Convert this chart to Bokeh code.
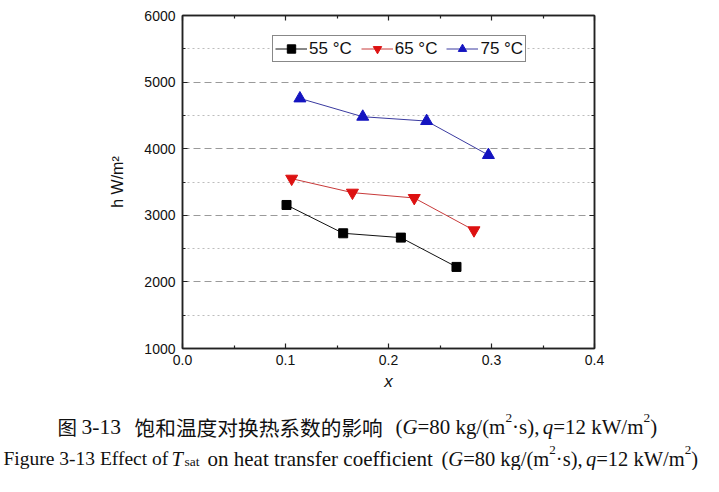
from bokeh.plotting import figure
from bokeh.models import (Range1d, LinearAxis, FixedTicker, PrintfTickFormatter,
                          CustomJSTickFormatter, Legend, LegendItem, Grid)
from bokeh.core.properties import value
from bokeh.embed import file_html
from bokeh.resources import INLINE

# ---------------- data ----------------
x_55 = [0.101, 0.156, 0.212, 0.266]
h_55 = [3155, 2730, 2665, 2225]
x_65 = [0.106, 0.165, 0.225, 0.283]
h_65 = [3550, 3340, 3260, 2775]
x_75 = [0.114, 0.175, 0.237, 0.297]
h_75 = [4755, 4480, 4415, 3905]
series_labels = ["55 °C", "65 °C", "75 °C"]
x_ticks = [0.0, 0.1, 0.2, 0.3, 0.4]
x_minor = [0.05, 0.15, 0.25, 0.35]
y_ticks = [1000, 2000, 3000, 4000, 5000, 6000]
y_minor = [1500, 2500, 3500, 4500, 5500]

# ---------------- main plot ----------------
AX = "#222222"
FONT = "Liberation Sans"
W, H = 703, 394
BL, BT, FW, FH = 182, 15, 412, 333
p = figure(width=W, height=H, x_range=Range1d(0, 0.4), y_range=Range1d(1000, 6000),
           output_backend="svg", toolbar_location=None,
           x_axis_type=None, y_axis_type=None,
           min_border_left=BL, min_border_right=W - BL - FW, min_border_top=BT,
           min_border_bottom=H - BT - FH)
p.background_fill_color = "white"
p.border_fill_color = "white"
p.outline_line_color = AX
p.outline_line_width = 1.5

xt = FixedTicker(ticks=x_ticks, minor_ticks=x_minor)
yt = FixedTicker(ticks=y_ticks, minor_ticks=y_minor)


def style_axis(ax, show_labels=True):
    ax.axis_line_color = AX
    ax.axis_line_width = 1.5
    ax.major_tick_line_color = AX
    ax.minor_tick_line_color = AX
    ax.major_tick_line_width = 1.2
    ax.minor_tick_line_width = 1.2
    ax.major_tick_in = 5
    ax.major_tick_out = 0
    ax.minor_tick_in = 3
    ax.minor_tick_out = 0
    ax.major_label_text_font = FONT
    ax.major_label_text_color = "#111111"
    ax.major_label_text_font_size = "14px"
    ax.major_label_standoff = 7 if show_labels else 0
    ax.axis_label_text_font = FONT
    ax.axis_label_text_color = "#111111"


bx = LinearAxis(ticker=xt, formatter=PrintfTickFormatter(format="%.1f"), axis_label="x")
style_axis(bx)
bx.major_label_standoff = 6
bx.axis_label_text_font_style = "italic"
bx.axis_label_text_font_size = "17px"
bx.axis_label_standoff = 4
p.add_layout(bx, "below")

ly = LinearAxis(ticker=yt, formatter=PrintfTickFormatter(format="%d"), axis_label="h W/m²")
style_axis(ly)
ly.axis_label_text_font_style = "normal"
ly.axis_label_text_font_size = "16px"
ly.axis_label_standoff = 15
p.add_layout(ly, "left")

blank = CustomJSTickFormatter(code="return ''")
tx = LinearAxis(ticker=xt, formatter=blank)
style_axis(tx, show_labels=False)
p.add_layout(tx, "above")
ry = LinearAxis(ticker=yt, formatter=blank)
style_axis(ry, show_labels=False)
p.add_layout(ry, "right")

grid = Grid(dimension=1, ticker=yt,
            grid_line_color="#9a9a9a", grid_line_width=1.2, grid_line_dash="7 4",
            minor_grid_line_color="#bdbdbd", minor_grid_line_width=1.2,
            minor_grid_line_dash="2 3")
p.add_layout(grid)

l1 = p.line(x_55, h_55, line_color="#111111", line_width=1)
s1 = p.scatter(x_55, h_55, marker="square", size=9, fill_color="#000000", line_color="#000000")
l2 = p.line(x_65, h_65, line_color="#c83a3a", line_width=1)
s2 = p.scatter(x_65, h_65, marker="inverted_triangle", size=12, fill_color="#dd1111",
               line_color="#dd1111")
l3 = p.line(x_75, h_75, line_color="#3a3aa0", line_width=1)
s3 = p.scatter(x_75, h_75, marker="triangle", size=12, fill_color="#1414c0",
               line_color="#1414c0")

legend = Legend(items=[LegendItem(label=series_labels[0], renderers=[l1, s1]),
                       LegendItem(label=series_labels[1], renderers=[l2, s2]),
                       LegendItem(label=series_labels[2], renderers=[l3, s3])],
                orientation="horizontal", location=(90, 286),
                label_text_font=FONT, label_text_font_size="17px", label_text_color="#111111",
                glyph_width=32, glyph_height=21, label_standoff=2, spacing=9, padding=2,
                margin=0, border_line_color="#111111", border_line_width=1,
                background_fill_color="white", background_fill_alpha=1.0)
p.add_layout(legend)

# ---------------- caption (separate root below the chart) ----------------
CW, CH = 703, 76
c = figure(width=CW, height=CH, x_range=Range1d(0, CW), y_range=Range1d(CH, 0),
           output_backend="svg", toolbar_location=None, title=None,
           x_axis_type=None, y_axis_type=None, min_border=0)
c.outline_line_color = None
c.background_fill_color = "white"
c.border_fill_color = "white"
c.xgrid.visible = False
c.ygrid.visible = False

REG = {' ': 250, '(': 333, ')': 333, ',': 250, '-': 333, '.': 250, '/': 278, '=': 564,
       '·': 250, '°': 400, 'E': 611, 'F': 556, 'G': 722, 'T': 611, 'W': 944, 'a': 444,
       'c': 444, 'e': 444, 'f': 333, 'g': 500, 'h': 500, 'i': 278, 'k': 500, 'l': 278,
       'm': 778, 'n': 500, 'o': 500, 'q': 500, 'r': 333, 's': 389, 't': 278, 'u': 500}
ITA = {'G': 722, 'T': 556, 'q': 500}
groups = {}


def put(fam, style, size, x, y, txt):
    g = groups.setdefault((fam, style, size), dict(x=[], y=[], text=[]))
    g["x"].append(x)
    g["y"].append(y)
    g["text"].append(txt)


def chain(x, base, F, pieces):
    """Lay out a run of serif pieces (regular / italic / superscript) from x."""
    for kind, txt in pieces:
        if kind == "sup":
            size, style, dy, table = round(F * 0.64, 1), "normal", -0.4 * F, REG
        elif kind == "ita":
            size, style, dy, table = F, "italic", 0, ITA
        else:
            size, style, dy, table = F, "normal", 0, REG
        put("Liberation Serif", style, size, x, base + dy, txt)
        x += sum(table.get(ch, 500) for ch in txt) / 1000.0 * size
    return x


tail = [("reg", "("), ("ita", "G"), ("reg", "=80 kg/(m"), ("sup", "2"), ("reg", "·s), "),
        ("ita", "q"), ("reg", "=12 kW/m"), ("sup", "2"), ("reg", ")")]

# line 1 (Chinese caption)
b1 = 32
put("Noto Sans CJK SC", "normal", 19.5, 57, b1, "图")
chain(81, b1, 21.5, [("reg", "3-13")])
put("Noto Sans CJK SC", "normal", 20.7, 134, b1, "饱和温度对换热系数的影响")
chain(395, b1, 20.9, tail)

# line 2 (English caption)
b2 = 64
chain(3, b2, 19.5, [("reg", "Figure 3-13 Effect of")])
chain(171, b2, 20.5, [("ita", "T")])
put("Liberation Serif", "normal", 13.5, 184, b2 + 3, "sat")
chain(207, b2, 21.0, [("reg", "on heat transfer coefficient")])
chain(441, b2, 20.5, tail)

for (fam, style, size), g in groups.items():
    c.text(x=g["x"], y=g["y"], text=g["text"], text_font=value(fam), text_font_style=style,
           text_font_size=value(f"{size}px"), text_color="#111111",
           text_align="left", text_baseline="alphabetic")

open("out.html", "w").write(file_html([p, c], INLINE))
